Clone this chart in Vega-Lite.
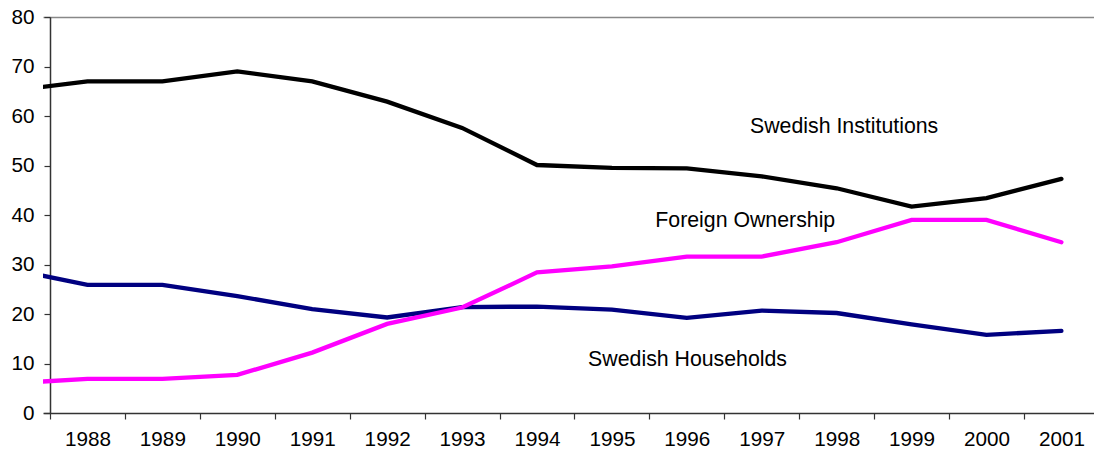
{
  "$schema": "https://vega.github.io/schema/vega-lite/v6.json",
  "width": 1051,
  "height": 396,
  "autosize": {"type": "none"},
  "padding": {"left": 43, "top": 17, "right": 0, "bottom": 46},
  "background": "white",
  "config": {
    "view": {"stroke": null},
    "font": "Liberation Sans",
    "axis": {"labelFont": "Liberation Sans", "labelFontSize": 20.7, "labelColor": "#000000"}
  },
  "datasets": {
    "series": [
      {"year": 1987, "series": "Swedish Institutions", "value": 65.1},
      {"year": 1988, "series": "Swedish Institutions", "value": 67.0},
      {"year": 1989, "series": "Swedish Institutions", "value": 67.0},
      {"year": 1990, "series": "Swedish Institutions", "value": 69.0},
      {"year": 1991, "series": "Swedish Institutions", "value": 67.0},
      {"year": 1992, "series": "Swedish Institutions", "value": 62.9},
      {"year": 1993, "series": "Swedish Institutions", "value": 57.6},
      {"year": 1994, "series": "Swedish Institutions", "value": 50.1},
      {"year": 1995, "series": "Swedish Institutions", "value": 49.5},
      {"year": 1996, "series": "Swedish Institutions", "value": 49.4},
      {"year": 1997, "series": "Swedish Institutions", "value": 47.8},
      {"year": 1998, "series": "Swedish Institutions", "value": 45.4},
      {"year": 1999, "series": "Swedish Institutions", "value": 41.7},
      {"year": 2000, "series": "Swedish Institutions", "value": 43.4},
      {"year": 2001, "series": "Swedish Institutions", "value": 47.3},
      {"year": 1987, "series": "Swedish Households", "value": 29.0},
      {"year": 1988, "series": "Swedish Households", "value": 25.9},
      {"year": 1989, "series": "Swedish Households", "value": 25.9},
      {"year": 1990, "series": "Swedish Households", "value": 23.6},
      {"year": 1991, "series": "Swedish Households", "value": 21.0},
      {"year": 1992, "series": "Swedish Households", "value": 19.3},
      {"year": 1993, "series": "Swedish Households", "value": 21.4},
      {"year": 1994, "series": "Swedish Households", "value": 21.5},
      {"year": 1995, "series": "Swedish Households", "value": 20.9},
      {"year": 1996, "series": "Swedish Households", "value": 19.2},
      {"year": 1997, "series": "Swedish Households", "value": 20.7},
      {"year": 1998, "series": "Swedish Households", "value": 20.2},
      {"year": 1999, "series": "Swedish Households", "value": 17.9},
      {"year": 2000, "series": "Swedish Households", "value": 15.8},
      {"year": 2001, "series": "Swedish Households", "value": 16.6},
      {"year": 1987, "series": "Foreign Ownership", "value": 6.0},
      {"year": 1988, "series": "Foreign Ownership", "value": 6.9},
      {"year": 1989, "series": "Foreign Ownership", "value": 6.9},
      {"year": 1990, "series": "Foreign Ownership", "value": 7.7},
      {"year": 1991, "series": "Foreign Ownership", "value": 12.2},
      {"year": 1992, "series": "Foreign Ownership", "value": 18.0},
      {"year": 1993, "series": "Foreign Ownership", "value": 21.3},
      {"year": 1994, "series": "Foreign Ownership", "value": 28.4},
      {"year": 1995, "series": "Foreign Ownership", "value": 29.6},
      {"year": 1996, "series": "Foreign Ownership", "value": 31.6},
      {"year": 1997, "series": "Foreign Ownership", "value": 31.6},
      {"year": 1998, "series": "Foreign Ownership", "value": 34.5},
      {"year": 1999, "series": "Foreign Ownership", "value": 39.0},
      {"year": 2000, "series": "Foreign Ownership", "value": 39.0},
      {"year": 2001, "series": "Foreign Ownership", "value": 34.5}
    ],
    "labels": [
      {"x": 1998.1, "y": 57.8, "label": "Swedish Institutions"},
      {"x": 1996.78, "y": 38.7, "label": "Foreign Ownership"},
      {"x": 1996.01, "y": 10.8, "label": "Swedish Households"}
    ]
  },
  "layer": [
    {
      "data": {"name": "series"},
      "mark": {"type": "line", "strokeWidth": 4.3, "clip": true, "strokeCap": "round"},
      "encoding": {
        "x": {
          "field": "year",
          "type": "quantitative",
          "scale": {"domain": [1987.4066, 2001.435], "nice": false, "zero": false},
          "axis": {
            "title": null,
            "values": [1987.5, 1988.5, 1989.5, 1990.5, 1991.5, 1992.5, 1993.5, 1994.5, 1995.5, 1996.5, 1997.5, 1998.5, 1999.5, 2000.5],
            "labelExpr": "format(datum.value + 0.5, 'd')",
            "labelOffset": 37.46,
            "labelAlign": "center",
            "labelFlush": false,
            "labelOverlap": false,
            "labelPadding": 10,
            "tickSize": 6,
            "tickColor": "#333333",
            "domainColor": "#333333",
            "domainWidth": 1.5,
            "tickWidth": 1.2,
            "grid": false
          }
        },
        "y": {
          "field": "value",
          "type": "quantitative",
          "scale": {"domain": [0, 80], "nice": false},
          "axis": {
            "title": null,
            "values": [0, 10, 20, 30, 40, 50, 60, 70, 80],
            "offset": -7,
            "tickSize": 6,
            "tickColor": "#333333",
            "domainColor": "#333333",
            "domainWidth": 1.5,
            "tickWidth": 1.2,
            "labelPadding": 10,
            "grid": true,
            "gridColor": "#888888",
            "gridWidth": 1.5,
            "gridOpacity": {"condition": {"test": "datum.value == 80", "value": 1}, "value": 0}
          }
        },
        "color": {
          "field": "series",
          "type": "nominal",
          "scale": {
            "domain": ["Swedish Institutions", "Swedish Households", "Foreign Ownership"],
            "range": ["#000000", "#000080", "#FF00FF"]
          },
          "legend": null
        }
      }
    },
    {
      "data": {"name": "labels"},
      "mark": {"type": "text", "fontSize": 21.3, "font": "Liberation Sans", "color": "#000000", "align": "center", "baseline": "middle"},
      "encoding": {
        "x": {"field": "x", "type": "quantitative"},
        "y": {"field": "y", "type": "quantitative"},
        "text": {"field": "label"}
      }
    }
  ]
}
